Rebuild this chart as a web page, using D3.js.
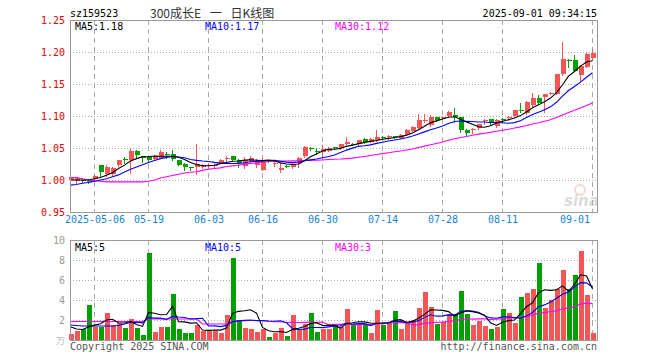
<!DOCTYPE html>
<html>
<head>
<meta charset="utf-8">
<script src="https://cdn.jsdelivr.net/npm/d3@7"></script>
<style>
  body { margin: 0; background: #fff; }
  text { font-family: "DejaVu Sans Mono", "Liberation Mono", monospace; font-size: 10px; }
</style>
</head>
<body>
<div class="chart"></div>
<script>
// Trading days shown on the chart
var dates = [
  "2025-04-25","2025-04-28","2025-04-29","2025-04-30",
  "2025-05-06","2025-05-07","2025-05-08","2025-05-09",
  "2025-05-12","2025-05-13","2025-05-14","2025-05-15","2025-05-16",
  "2025-05-19","2025-05-20","2025-05-21","2025-05-22","2025-05-23",
  "2025-05-26","2025-05-27","2025-05-28","2025-05-29","2025-05-30",
  "2025-06-03","2025-06-04","2025-06-05","2025-06-06",
  "2025-06-09","2025-06-10","2025-06-11","2025-06-12","2025-06-13",
  "2025-06-16","2025-06-17","2025-06-18","2025-06-19","2025-06-20",
  "2025-06-23","2025-06-24","2025-06-25","2025-06-26","2025-06-27",
  "2025-06-30","2025-07-01","2025-07-02","2025-07-03","2025-07-04",
  "2025-07-07","2025-07-08","2025-07-09","2025-07-10","2025-07-11",
  "2025-07-14","2025-07-15","2025-07-16","2025-07-17","2025-07-18",
  "2025-07-21","2025-07-22","2025-07-23","2025-07-24","2025-07-25",
  "2025-07-28","2025-07-29","2025-07-30","2025-07-31","2025-08-01",
  "2025-08-04","2025-08-05","2025-08-06","2025-08-07","2025-08-08",
  "2025-08-11","2025-08-12","2025-08-13","2025-08-14","2025-08-15",
  "2025-08-18","2025-08-19","2025-08-20","2025-08-21","2025-08-22",
  "2025-08-25","2025-08-26","2025-08-27","2025-08-28","2025-08-29",
  "2025-09-01"
];

var opens = [
  1.000,0.999,1.000,0.999,1.001,1.023,1.009,1.010,1.023,1.033,
  1.031,1.046,1.037,1.036,1.033,1.035,1.041,1.041,1.031,1.025,
  1.020,1.020,1.020,1.023,1.023,1.027,1.033,1.037,1.032,1.022,
  1.029,1.024,1.016,1.031,1.026,1.015,1.022,1.020,1.026,1.037,
  1.050,1.045,1.043,1.046,1.051,1.050,1.056,1.057,1.056,1.064,
  1.060,1.062,1.067,1.067,1.068,1.066,1.071,1.077,1.082,1.093,
  1.086,1.098,1.097,1.100,1.101,1.098,1.078,1.079,1.081,1.093,
  1.095,1.084,1.095,1.097,1.100,1.109,1.104,1.117,1.128,1.130,
  1.135,1.135,1.165,1.188,1.188,1.164,1.177,1.190
];
var highs = [
  1.006,1.005,1.002,1.001,1.008,1.024,1.023,1.021,1.032,1.036,
  1.050,1.047,1.038,1.037,1.039,1.047,1.043,1.047,1.032,1.026,
  1.021,1.057,1.025,1.026,1.026,1.033,1.037,1.038,1.033,1.036,
  1.038,1.033,1.035,1.032,1.030,1.027,1.023,1.028,1.036,1.053,
  1.052,1.050,1.054,1.051,1.052,1.057,1.067,1.058,1.063,1.065,
  1.065,1.078,1.068,1.071,1.069,1.072,1.079,1.085,1.103,1.103,
  1.102,1.099,1.099,1.108,1.112,1.099,1.080,1.081,1.088,1.096,
  1.096,1.095,1.097,1.100,1.110,1.121,1.123,1.136,1.133,1.135,
  1.138,1.166,1.216,1.189,1.196,1.179,1.198,1.204
];
var lows = [
  0.998,0.995,0.997,0.996,1.000,1.006,1.007,1.008,1.022,1.027,
  1.011,1.036,1.028,1.030,1.032,1.034,1.035,1.032,1.023,1.016,
  1.016,1.010,1.018,1.021,1.021,1.026,1.030,1.031,1.021,1.019,
  1.027,1.020,1.015,1.028,1.022,1.012,1.020,1.018,1.020,1.036,
  1.047,1.040,1.037,1.045,1.048,1.049,1.055,1.054,1.055,1.058,
  1.059,1.061,1.064,1.064,1.065,1.065,1.070,1.076,1.081,1.091,
  1.085,1.092,1.095,1.099,1.091,1.075,1.069,1.073,1.080,1.088,
  1.088,1.083,1.091,1.094,1.099,1.106,1.103,1.116,1.119,1.107,
  1.134,1.134,1.164,1.176,1.170,1.154,1.176,1.189
];
var closes = [
  1.004,1.003,0.999,0.998,1.006,1.013,1.021,1.019,1.031,1.032,
  1.046,1.039,1.034,1.031,1.038,1.043,1.040,1.033,1.024,1.020,
  1.019,1.025,1.023,1.024,1.024,1.032,1.034,1.032,1.026,1.031,
  1.035,1.030,1.029,1.030,1.027,1.018,1.021,1.025,1.034,1.052,
  1.049,1.044,1.048,1.049,1.050,1.056,1.060,1.056,1.062,1.060,
  1.064,1.067,1.066,1.068,1.067,1.071,1.078,1.083,1.094,1.094,
  1.098,1.093,1.098,1.107,1.098,1.078,1.073,1.080,1.087,1.094,
  1.090,1.094,1.094,1.098,1.109,1.108,1.122,1.128,1.120,1.134,
  1.136,1.165,1.189,1.187,1.171,1.178,1.197,1.199
];
// volume, in 万
var volumes = [
  0.6,0.93,1.07,3.5,1.33,1.33,2.73,1.5,1.73,1.23,
  2.1,1.23,0.5,8.73,0.83,1.33,1.33,4.6,1.07,0.73,
  0.73,1.5,0.93,0.93,0.93,0.67,2.5,8.23,2.0,1.23,
  1.13,0.83,1.1,0.33,0.73,1.23,0.4,2.5,1.0,1.6,
  2.73,0.83,1.07,1.07,1.6,1.33,3.1,1.5,1.57,1.57,
  0.73,3.0,1.5,1.67,2.9,1.1,1.67,2.0,3.23,4.83,
  3.33,1.6,1.83,2.6,2.6,4.9,2.6,1.5,1.93,1.43,
  1.1,1.33,3.1,2.73,1.73,4.33,4.73,5.1,7.73,3.23,
  4.0,5.1,7.0,5.1,6.5,8.9,4.5,0.67
];

// MA values before a full window exists (earlier data not shown)
var ma5Lead = [1.000,1.000,1.000,1.000];
var ma10Lead = [0.992,0.993,0.995,0.996,0.998,1.000,1.002,1.005,1.008];
var ma30Lead = [1.004,1.004,1.002,1.000,0.999,0.998,0.997,0.997,0.997,0.997,
  0.997,0.997,0.997,0.998,1.000,1.003,1.005,1.007,1.009,1.011,
  1.012,1.013,1.015,1.017,1.018,1.019,1.021,1.022,1.023];
var volMa5Lead = [1.33,1.1,1.05,1.3];
var volMa10Lead = [1.5,1.45,1.4,1.4,1.4,1.4,1.4,1.4,1.45];
var volMa30Lead = [1.85,1.85,1.85,1.85,1.85,1.85,1.85,1.85,1.85,1.85,
  1.85,1.85,1.85,2.1,2.1,2.1,2.1,2.1,2.1,2.1,
  2.1,2.1,1.6,1.6,1.6,1.6,1.6,1.9,1.92];

var priceTicks = [0.95, 1.00, 1.05, 1.10, 1.15, 1.20, 1.25];
var volTicks = [2, 4, 6, 8, 10];
var dateTicks = ["2025-05-06","2025-05-19","2025-06-03","2025-06-16","2025-06-30",
  "2025-07-14","2025-07-28","2025-08-11","2025-09-01"];

var svgWidth = 660;
var svgHeight = 360;
var left = 70, right = 597;
var priceTop = 20, priceBottom = 212;
var volTop = 240, volBottom = 340;

var upColor = "#f65555";
var downColor = "#00a000";

var svg = d3.select(".chart")
  .append("svg")
  .attr("width", svgWidth)
  .attr("height", svgHeight);

// Step 1: build rows
var bars = dates.map(function(d, i) {
  return { date: d, open: opens[i], high: highs[i], low: lows[i], close: closes[i], vol: volumes[i] };
});

function movingAverage(values, n, lead) {
  return values.map(function(v, i) {
    if (i < n - 1) return lead[i];
    return d3.mean(values.slice(i - n + 1, i + 1));
  });
}
var ma5 = movingAverage(closes, 5, ma5Lead);
var ma10 = movingAverage(closes, 10, ma10Lead);
var ma30 = movingAverage(closes, 30, ma30Lead);
var volMa5 = movingAverage(volumes, 5, volMa5Lead);
var volMa10 = movingAverage(volumes, 10, volMa10Lead);
var volMa30 = movingAverage(volumes, 30, volMa30Lead);

// Step 2: scales
var xScale = d3.scaleBand()
  .domain(dates)
  .range([68, 596]);
var step = xScale.step();
var cx = function(d) { return xScale(d) + step / 2; };

var yPrice = d3.scaleLinear().domain([0.95, 1.25]).range([priceBottom, priceTop]);
var yVol = d3.scaleLinear().domain([0, 10]).range([volBottom, volTop]);

// Step 3: grids
function drawGrid(yScale, ticks, top, bottom) {
  var g = svg.append("g");
  g.selectAll(".hgrid")
    .data(ticks)
    .enter()
    .append("line")
    .attr("x1", left).attr("x2", right)
    .attr("y1", d => Math.round(yScale(d)) + 0.5)
    .attr("y2", d => Math.round(yScale(d)) + 0.5)
    .attr("stroke", "#aaa")
    .attr("stroke-dasharray", "1,2");
  g.selectAll(".vgrid")
    .data(dateTicks)
    .enter()
    .append("line")
    .attr("x1", d => cx(d) - 0.5).attr("x2", d => cx(d) - 0.5)
    .attr("y1", top).attr("y2", bottom)
    .attr("stroke", "#aaa")
    .attr("stroke-dasharray", "5,4");
}
drawGrid(yPrice, priceTicks.slice(1, -1), priceTop, priceBottom);
drawGrid(yVol, volTicks.slice(0, -1), volTop, volBottom);

// sina watermark
var wm = svg.append("g").attr("opacity", 0.35);
wm.append("circle").attr("cx", 580).attr("cy", 190).attr("r", 5)
  .attr("fill", "none").attr("stroke", "#e88").attr("stroke-width", 2);
wm.append("text")
  .attr("x", 564).attr("y", 206)
  .attr("fill", "#999")
  .style("font-family", "DejaVu Sans")
  .style("font-size", "15px")
  .style("font-weight", "bold")
  .style("font-style", "italic")
  .text("sina");

// Step 4: candles
var colorOf = d => d.close >= d.open ? upColor : downColor;

var plot = svg.append("g");
plot.selectAll(".wick")
  .data(bars)
  .enter()
  .append("line")
  .attr("x1", d => cx(d.date) - 0.5)
  .attr("x2", d => cx(d.date) - 0.5)
  .attr("y1", d => Math.round(yPrice(d.high)))
  .attr("y2", d => Math.round(yPrice(d.low)) + 1)
  .attr("stroke", colorOf);

plot.selectAll(".body")
  .data(bars)
  .enter()
  .append("rect")
  .attr("x", d => xScale(d.date) + 1)
  .attr("width", step - 1)
  .attr("y", d => Math.round(yPrice(Math.max(d.open, d.close))))
  .attr("height", d => Math.max(1, Math.round(yPrice(Math.min(d.open, d.close))) - Math.round(yPrice(Math.max(d.open, d.close)))))
  .attr("fill", colorOf);

// Step 5: volume bars
plot.selectAll(".vol")
  .data(bars)
  .enter()
  .append("rect")
  .attr("x", d => xScale(d.date) + 1)
  .attr("width", step - 1)
  .attr("y", d => Math.round(yVol(d.vol)))
  .attr("height", d => volBottom - Math.round(yVol(d.vol)))
  .attr("fill", colorOf);

// Step 6: moving average lines
function drawLine(values, yScale, color) {
  var line = d3.line()
    .x((v, i) => cx(dates[i]) - 0.5)
    .y(v => yScale(v));
  svg.append("path")
    .datum(values)
    .attr("d", line)
    .attr("fill", "none")
    .attr("stroke", color)
    .attr("stroke-width", 1.1);
}
drawLine(ma30, yPrice, "#ff00ff");
drawLine(ma10, yPrice, "#0000ff");
drawLine(ma5, yPrice, "#000");
drawLine(volMa30, yVol, "#ff00ff");
drawLine(volMa10, yVol, "#0000ff");
drawLine(volMa5, yVol, "#000");

// Step 7: axes
var priceAxis = svg.append("g")
  .attr("transform", `translate(${left}, 0)`)
  .call(d3.axisLeft(yPrice).tickValues(priceTicks).tickFormat(d3.format(".2f")).tickSize(0).tickPadding(5));
priceAxis.select(".domain").remove();
priceAxis.selectAll("text").attr("fill", "#ee0000").style("font-size", "10px").style("font-family", "DejaVu Sans Mono");

var volAxis = svg.append("g")
  .attr("transform", `translate(${left}, 0)`)
  .call(d3.axisLeft(yVol).tickValues(volTicks).tickFormat(d3.format("d")).tickSize(0).tickPadding(5));
volAxis.select(".domain").remove();
volAxis.selectAll("text").attr("fill", "#999").style("font-size", "10px").style("font-family", "DejaVu Sans Mono");

var dateAxis = svg.append("g")
  .attr("transform", `translate(0, ${priceBottom})`)
  .call(d3.axisBottom(xScale).tickValues(dateTicks)
    .tickFormat((d, i) => i === 0 ? d : d.slice(5))
    .tickSize(0).tickPadding(4));
dateAxis.select(".domain").remove();
dateAxis.selectAll("text").attr("fill", "#1583d8").style("font-size", "10px").style("font-family", "DejaVu Sans Mono");
dateAxis.selectAll(".tick").filter((d, i, n) => i === n.length - 1)
  .select("text").attr("text-anchor", "end").attr("x", -3);

// Step 8: frames
[[priceTop, priceBottom], [volTop, volBottom]].forEach(function(p) {
  svg.append("rect")
    .attr("x", left + 0.5).attr("y", p[0] + 0.5)
    .attr("width", right - left).attr("height", p[1] - p[0])
    .attr("fill", "none")
    .attr("stroke", "#999");
});

// Step 9: labels
function label(x, y, txt, color, anchor) {
  return svg.append("text")
    .attr("x", x).attr("y", y)
    .attr("fill", color)
    .attr("text-anchor", anchor || "start")
    .text(txt);
}
label(70, 17, "sz159523", "#000");
label(597, 17, "2025-09-01 09:34:15", "#000", "end");
svg.append("text")
  .attr("x", 150).attr("y", 18)
  .attr("fill", "#333")
  .style("font-family", "Noto Sans CJK SC")
  .style("font-size", "12px")
  .style("word-spacing", "6px")
  .style("white-space", "pre")
  .text("300成长E 一 日K线图");

label(75, 30, "MA5:" + d3.format(".2f")(1.18), "#000");
label(205, 30, "MA10:" + d3.format(".2f")(1.17), "#0000ff");
label(335, 30, "MA30:" + d3.format(".2f")(1.12), "#ff00ff");
label(75, 251, "MA5:5", "#000");
label(205, 251, "MA10:5", "#0000ff");
label(335, 251, "MA30:3", "#ff00ff");

svg.append("text")
  .attr("x", 65).attr("y", 344)
  .attr("text-anchor", "end")
  .attr("fill", "#bbb")
  .style("font-family", "Noto Sans CJK SC")
  .style("font-size", "9px")
  .text("万");

label(70, 350, "Copyright 2025 SINA.COM", "#555");
label(597, 350, "http://finance.sina.com.cn", "#555", "end");
</script>
</body>
</html>
